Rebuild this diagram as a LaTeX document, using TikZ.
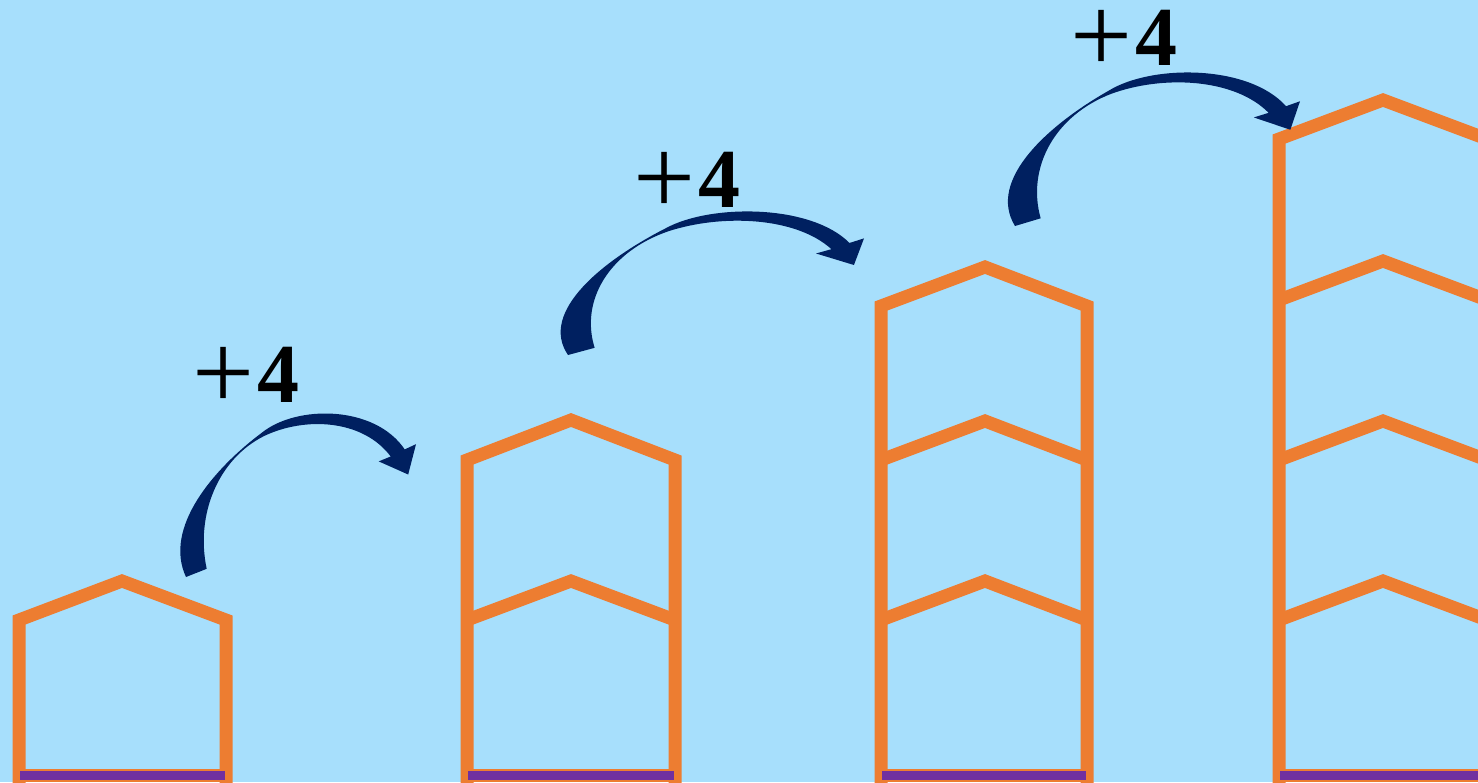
\documentclass[tikz,border=0pt]{standalone}
\usepackage{fontspec}
\newfontfamily\numfont{Liberation Serif}
\definecolor{skyback}{RGB}{167,223,252}
\definecolor{houseorange}{RGB}{237,125,49}
\definecolor{floorpurple}{RGB}{112,48,160}
\definecolor{arrowblue}{RGB}{0,32,96}
\newcommand\plusfourtext{\raisebox{-3.5pt}{\fontsize{55}{60}\selectfont +}\hspace{1pt}{\bfseries 4}}
\tikzset{
	pics/bendarrow/.style={code={
		\fill[arrowblue] (0,0) .. controls (-0.1,0.3) and (0.12,0.66) .. (0.33,0.88)
			.. controls (0.48,1.05) and (0.82,1.05) .. (0.951,0.778)
			-- (1,0.81) -- (0.966,0.625) -- (0.838,0.705) -- (0.89,0.735)
			.. controls (0.77,0.96) and (0.52,0.98) .. (0.34,0.86)
			.. controls (0.14,0.72) and (0.04,0.38) .. (0.09,0.05) -- cycle;
	}}
}

\begin{document}
\begin{tikzpicture}[x=0.5pt, y=-0.5pt,
	house/.style={draw=houseorange, line width=6.5pt},
	floor/.style={fill=floorpurple, draw=houseorange, line width=0.6pt},
	plusfour/.style={anchor=base, inner sep=0pt, font=\numfont\fontsize{42}{44}\selectfont}]
	\fill[skyback] (0,0) rectangle (1478,782);
	\useasboundingbox (0,0) rectangle (1478,782);
	% one storey
	\draw[house] (19,790) -- (19,620) -- (122,581) -- (226,620) -- (226,790);
	\filldraw[floor] (19,770) rectangle (226,781);
	% two storeys
	\draw[house] (467,790) -- (467,460) -- (571,420) -- (675,460) -- (675,790);
	\draw[house] (467,620) -- (571,581) -- (675,620);
	\filldraw[floor] (467,770) rectangle (675,781);
	% three storeys
	\draw[house] (881,790) -- (881,306) -- (985,267) -- (1087,306) -- (1087,790);
	\draw[house] (881,460) -- (985,421) -- (1087,460);
	\draw[house] (881,620) -- (985,581) -- (1087,620);
	\filldraw[floor] (881,770) rectangle (1087,781);
	% four storeys
	\draw[house] (1279,790) -- (1279,139) -- (1383,100) -- (1487,139) -- (1487,790);
	\draw[house] (1279,300) -- (1383,261) -- (1487,300);
	\draw[house] (1279,460) -- (1383,421) -- (1487,460);
	\draw[house] (1279,620) -- (1383,581) -- (1487,620);
	\filldraw[floor] (1279,770) rectangle (1487,781);
	% jumps
	\pic[xscale=230, yscale=-164] (jumpA) at (186,577) {bendarrow};
	\pic[xscale=296, yscale=-144] (jumpB) at (568,355) {bendarrow};
	\pic[xscale=285, yscale=-154] (jumpC) at (1015,226) {bendarrow};
	\node[plusfour] (stepA) at (246,402) {\plusfourtext};
	\node[plusfour] (stepB) at (687,207) {\plusfourtext};
	\node[plusfour] (stepC) at (1124,65) {\plusfourtext};
\end{tikzpicture}
\end{document}
